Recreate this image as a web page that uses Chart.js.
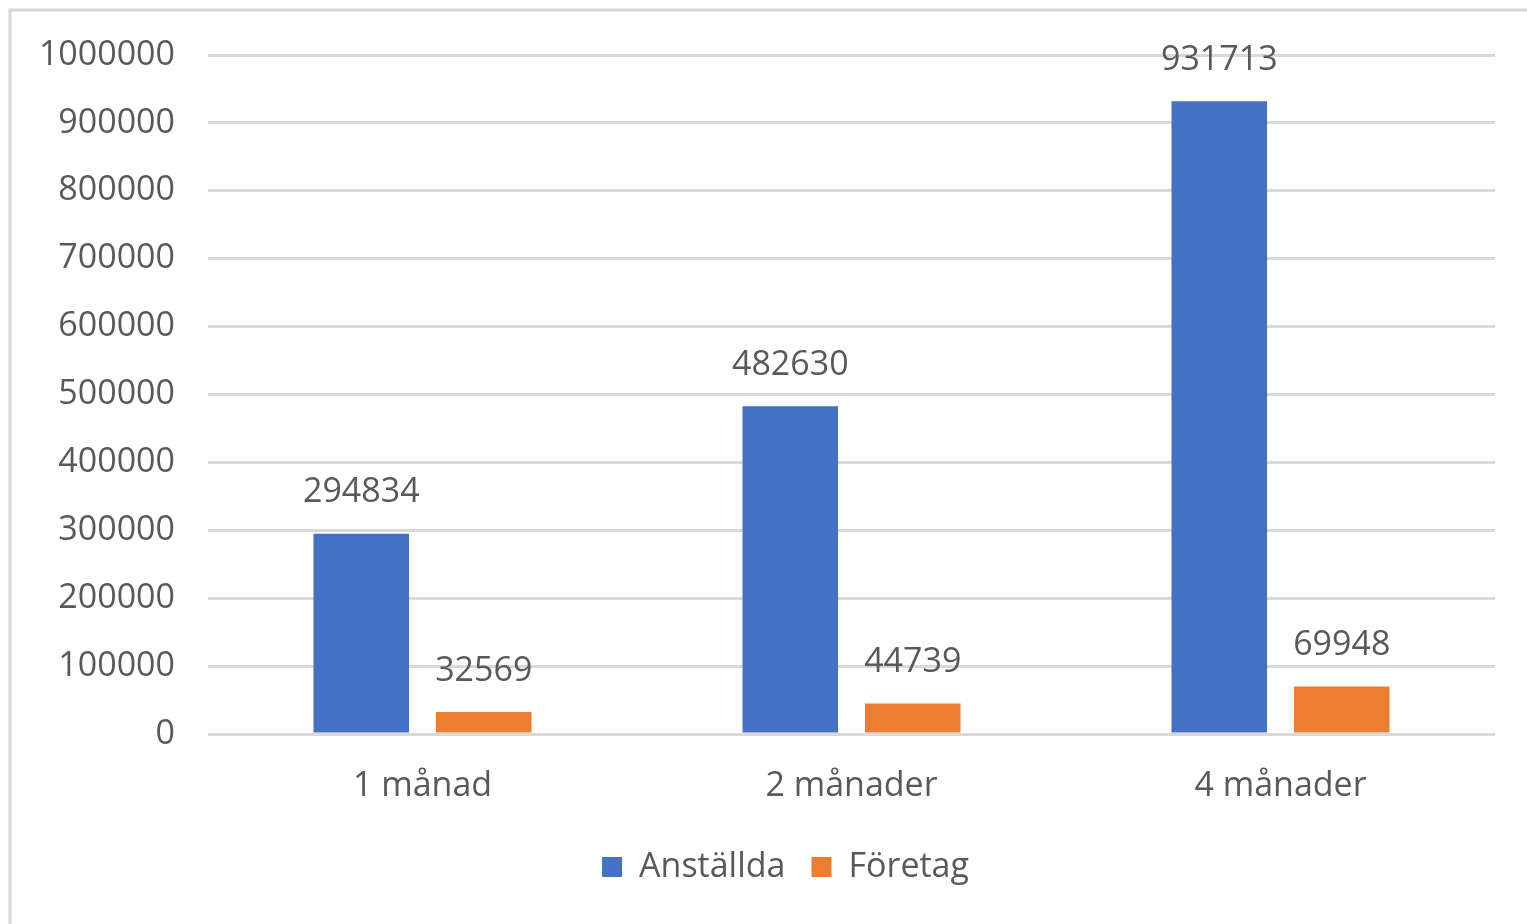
<!DOCTYPE html>
<html>
<head>
<meta charset="utf-8">
<script src="https://cdn.jsdelivr.net/npm/chart.js@4.4.1/dist/chart.umd.min.js"></script>
<style>
  html, body { margin: 0; padding: 0; background: #ffffff; }
  #wrap { position: relative; width: 1527px; height: 924px; }
</style>
</head>
<body>
<div id="wrap"><canvas id="chart"></canvas></div>
<script>
const categories = ["1 månad", "2 månader", "4 månader"];
const employees = [294834, 482630, 931713];
const companies = [32569, 44739, 69948];
const seriesNames = ["Anställda", "Företag"];

const BLUE = "#4472c4";
const ORANGE = "#ed7d31";
const TEXT_COLOR = "#595959";
const GRID_COLOR = "#d9d9d9";
const FONT = "'Open Sans', 'Noto Sans', sans-serif";
const FONT_SIZE = 34;

// light frame on the left and top, like the Excel chart border
const framePlugin = {
  id: "frame",
  beforeDraw(chart) {
    const ctx = chart.ctx;
    ctx.save();
    ctx.fillStyle = "#ffffff";
    ctx.fillRect(0, 0, chart.width, chart.height);
    ctx.strokeStyle = GRID_COLOR;
    ctx.lineWidth = 3;
    ctx.beginPath();
    ctx.moveTo(10, chart.height);
    ctx.lineTo(10, 10);
    ctx.lineTo(chart.width, 10);
    ctx.stroke();
    ctx.restore();
  },
};

// the legend sits a bit right of centre in the original
const legendShift = {
  id: "legendShift",
  afterLayout(chart) {
    chart.legend.left += 38;
    chart.legend.right += 38;
  },
};

// value labels above each bar
const valueLabels = {
  id: "valueLabels",
  afterDatasetsDraw(chart) {
    const ctx = chart.ctx;
    ctx.save();
    ctx.font = `${FONT_SIZE}px ${FONT}`;
    ctx.fillStyle = TEXT_COLOR;
    ctx.textAlign = "center";
    ctx.textBaseline = "middle";
    chart.data.datasets.forEach((ds, i) => {
      chart.getDatasetMeta(i).data.forEach((bar, j) => {
        ctx.fillText(String(ds.data[j]), bar.x, bar.y - 41);
      });
    });
    ctx.restore();
  },
};

new Chart(document.getElementById("chart"), {
  type: "bar",
  data: {
    labels: categories,
    datasets: [
      { label: seriesNames[0], data: employees, backgroundColor: BLUE },
      { label: seriesNames[1], data: companies, backgroundColor: ORANGE },
    ],
  },
  options: {
    responsive: true,
    maintainAspectRatio: false,
    animation: false,
    layout: { padding: { left: 0, right: 32, top: 55, bottom: 30 } },
    datasets: {
      bar: { categoryPercentage: 0.571, barPercentage: 0.78 },
    },
    scales: {
      x: {
        grid: { display: false },
        border: { display: false },
        ticks: {
          color: TEXT_COLOR,
          font: { family: FONT, size: FONT_SIZE },
          padding: 24,
          maxRotation: 0,
        },
        afterFit(scale) {
          scale.height = 90;
        },
      },
      y: {
        min: 0,
        max: 1000000,
        grid: { color: GRID_COLOR, lineWidth: 3, drawTicks: false },
        border: { display: false },
        ticks: {
          stepSize: 100000,
          color: TEXT_COLOR,
          font: { family: FONT, size: FONT_SIZE },
          padding: 33,
          callback: (v) => String(v),
        },
        afterFit(scale) {
          scale.width = 208;
        },
      },
    },
    plugins: {
      legend: {
        position: "bottom",
        labels: {
          boxWidth: 20,
          boxHeight: 20,
          color: TEXT_COLOR,
          font: { family: FONT, size: FONT_SIZE },
          padding: 26,
        },
      },
      tooltip: { enabled: false },
    },
  },
  plugins: [framePlugin, legendShift, valueLabels],
});
</script>
</body>
</html>
